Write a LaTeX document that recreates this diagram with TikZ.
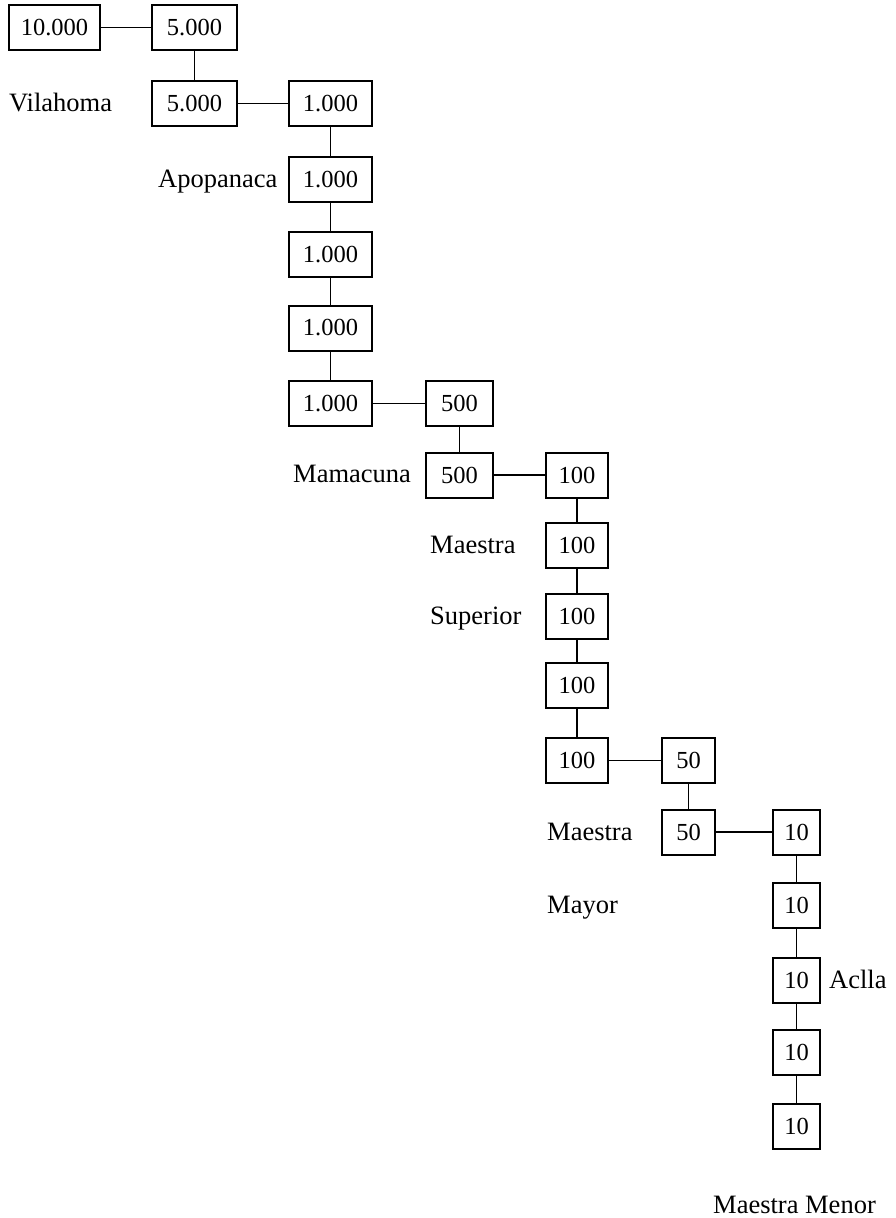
\documentclass[tikz,border=0pt]{standalone}
\usepackage{fontspec}
\setmainfont{Liberation Serif}
\begin{document}
\begin{tikzpicture}[x=1pt,y=-1pt,
  every node/.style={font=\fontsize{24.5}{30}\selectfont, inner sep=0pt},
  numbox/.style={draw, line width=2pt, minimum height=45pt},
  w91/.style={numbox, minimum width=91pt},
  w85/.style={numbox, minimum width=85pt},
  w83/.style={numbox, minimum width=83pt},
  w67/.style={numbox, minimum width=67pt},
  w62/.style={numbox, minimum width=62pt},
  w53/.style={numbox, minimum width=53pt},
  w47/.style={numbox, minimum width=47pt},
  link/.style={line width=1.8pt},
  lab/.style={anchor=base west, font=\fontsize{26.5}{30}\selectfont}]
\useasboundingbox (0,0) rectangle (895,1218);
% boxes
\node[w91] (a1) at (54.5,27.5) {10.000};
\node[w85] (b1) at (194.5,27.5) {5.000};
\node[w85] (b2) at (194.5,103.5) {5.000};
\node[w83] (c1) at (330.5,103.5) {1.000};
\node[w83] (c2) at (330.5,179.5) {1.000};
\node[w83] (c3) at (330.5,254.5) {1.000};
\node[w83] (c4) at (330.5,328) {1.000};
\node[w83] (c5) at (330.5,403.5) {1.000};
\node[w67] (d1) at (459.5,403.5) {500};
\node[w67] (d2) at (459.5,475) {500};
\node[w62] (e1) at (577,475) {100};
\node[w62] (e2) at (577,545) {100};
\node[w62] (e3) at (577,616.5) {100};
\node[w62] (e4) at (577,685.5) {100};
\node[w62] (e5) at (577,760.5) {100};
\node[w53] (f1) at (688.5,760.5) {50};
\node[w53] (f2) at (688.5,832) {50};
\node[w47] (g1) at (796.5,832) {10};
\node[w47] (g2) at (796.5,905.5) {10};
\node[w47] (g3) at (796.5,980) {10};
\node[w47] (g4) at (796.5,1052) {10};
\node[w47] (g5) at (796.5,1126) {10};
% connectors
\draw[link] (a1) -- (b1);
\draw[link] (b1) -- (b2);
\draw[link] (b2) -- (c1);
\draw[link] (c1) -- (c2);
\draw[link] (c2) -- (c3);
\draw[link] (c3) -- (c4);
\draw[link] (c4) -- (c5);
\draw[link] (c5) -- (d1);
\draw[link] (d1) -- (d2);
\draw[link] (d2) -- (e1);
\draw[link] (e1) -- (e2);
\draw[link] (e2) -- (e3);
\draw[link] (e3) -- (e4);
\draw[link] (e4) -- (e5);
\draw[link] (e5) -- (f1);
\draw[link] (f1) -- (f2);
\draw[link] (f2) -- (g1);
\draw[link] (g1) -- (g2);
\draw[link] (g2) -- (g3);
\draw[link] (g3) -- (g4);
\draw[link] (g4) -- (g5);
% labels
\node[lab] (l1) at (9,111.5) {Vilahoma};
\node[lab] (l2) at (158,187.5) {Apopanaca};
\node[lab] (l3) at (293,482.5) {Mamacuna};
\node[lab] (l4) at (430,553) {Maestra};
\node[lab] (l5) at (430,624.5) {Superior};
\node[lab] (l6) at (547,840) {Maestra};
\node[lab] (l7) at (547,913.5) {Mayor};
\node[lab] (l8) at (829,988) {Aclla};
\node[lab] (l9) at (713,1213) {Maestra Menor};
\end{tikzpicture}
\end{document}
